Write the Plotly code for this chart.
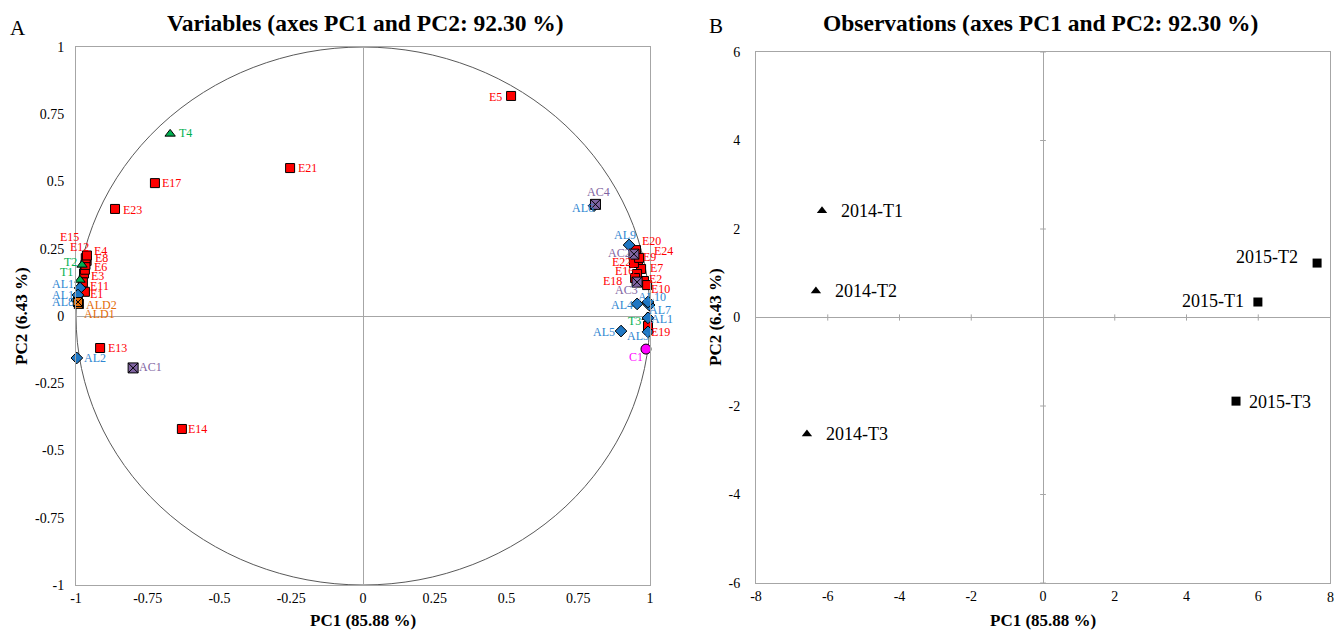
import plotly.graph_objects as go

# ---------------- Panel A: variables ----------------
E_names = ["E1","E2","E3","E4","E5","E6","E7","E8","E9","E10","E11","E12",
           "E13","E14","E15","E16","E17","E18","E19","E20","E21","E22","E23","E24"]
E_x = [-0.969, 0.979, -0.972, -0.963, 0.516, -0.969, 0.969, -0.967, 0.958, 0.990, -0.976, -0.966,
       -0.916, -0.631, -0.962, 0.955, -0.725, 0.948, 0.993, 0.951, -0.254, 0.944, -0.864, 0.962]
E_y = [0.090, 0.130, 0.158, 0.205, 0.818, 0.172, 0.175, 0.190, 0.208, 0.115, 0.125, 0.215,
       -0.119, -0.420, 0.225, 0.156, 0.494, 0.141, -0.037, 0.245, 0.550, 0.197, 0.398, 0.216]

T_names = ["T1", "T2", "T3", "T4"]
T_x = [-0.986, -0.979, 0.990, -0.672]
T_y = [0.134, 0.190, -0.004, 0.677]

AL_names = ["AL1","AL2","AL3","AL4","AL5","AL6","AL7","AL8","AL9","AL10","AL1","AL1"]
AL_x = [0.993, -0.997, 0.993, 0.955, 0.899, 0.805, 0.997, -0.997, 0.927, 0.993, -0.986, -0.993]
AL_y = [-0.007, -0.156, -0.059, 0.045, -0.056, 0.410, 0.041, 0.059, 0.264, 0.052, 0.104, 0.078]

AC_names = ["AC1", "AC2", "AC3", "AC4"]
AC_x = [-0.801, 0.944, 0.955, 0.810]
AC_y = [-0.193, 0.230, 0.126, 0.415]

ALD_names = ["ALD1", "ALD2"]
ALD_x = [-0.990, -0.993]
ALD_y = [0.045, 0.052]

C_names = ["C1"]
C_x = [0.986]
C_y = [-0.123]

# label offsets in pixels (style only)
E_dx = [12, 12, 13, 14, -16, 16, 15, 16, 12, 13, 17, -6, 17, 16, -17, -13, 17, -23, 13, 16, 17, -12, 17, 24]
E_dy = [2, -2, 2, -10, 1, -3, -1, -7, -3, 4, 4, -11, 0, 0, -18, -3, 0, 3, 6, -9, 0, -1, 1, -7]
T_dx = [-14, -12, -13, 15]
T_dy = [-8, -3, 4, -1]
AL_dx = [14, 18, -10, -15, -17, -11, 11, -14, -4, 4, -17, -15]
AL_dy = [1, 0, 4, 1, 1, 2, 5, 2, -10, -5, -4, 0]
AC_dx = [17, -14, -11, 3]
AC_dy = [-1, -1, 8, -12]
ALD_dx = [21, 23]
ALD_dy = [10, 3]
C_dx = [-10]
C_dy = [8]

# ---------------- Panel B: observations ----------------
obs_names = ["2014-T1", "2014-T2", "2014-T3", "2015-T1", "2015-T2", "2015-T3"]
obs_x = [-6.16, -6.33, -6.58, 5.99, 7.64, 5.38]
obs_y = [2.41, 0.60, -2.63, 0.35, 1.23, -1.89]
obs_year = ["2014", "2014", "2014", "2015", "2015", "2015"]
# label placement (style only)
obs_dx = [17, 17, 17, -12, -17, 11]
obs_dy = [0, 0, 0, -1, -6, 1]
obs_anchor = ["left", "left", "left", "right", "right", "left"]

ticks_A = [-1, -0.75, -0.5, -0.25, 0, 0.25, 0.5, 0.75, 1]
ticks_A_text = ["-1", "-0.75", "-0.5", "-0.25", "0", "0.25", "0.5", "0.75", "1"]
ticks_Bx = [-8, -6, -4, -2, 0, 2, 4, 6, 8]
ticks_By = [-6, -4, -2, 0, 2, 4, 6]

FONT = "Liberation Serif"

# page geometry: the body margin is removed by a post script, so the figure fills the window
OFF = 0
W, H = 1334, 631


def px(x):
    return (x - OFF) / W


def py(y):
    return 1 - (y - OFF) / H


fig = go.Figure()

series = [
    (E_names, E_x, E_y, E_dx, E_dy, "square", "#FF0000", "#FF0000", 9),
    (T_names, T_x, T_y, T_dx, T_dy, "triangle-up", "#00B050", "#00B050", 9),
    (AL_names, AL_x, AL_y, AL_dx, AL_dy, "diamond", "#1F77C4", "#2E86D1", 9),
    (AC_names, AC_x, AC_y, AC_dx, AC_dy, "square-x", "#8064A2", "#8064A2", 10),
    (ALD_names, ALD_x, ALD_y, ALD_dx, ALD_dy, "square-x", "#E36C09", "#E36C09", 9),
    (C_names, C_x, C_y, C_dx, C_dy, "circle", "#FF00FF", "#FF00FF", 10),
]

annotations = []
for names, xs, ys, dxs, dys, sym, fill, tcol, size in series:
    fig.add_trace(go.Scatter(
        x=xs, y=ys, mode="markers", xaxis="x", yaxis="y",
        marker=dict(symbol=sym, size=size, color=fill, line=dict(color="#000000", width=1)),
        cliponaxis=False, showlegend=False, hoverinfo="text", text=names))
    for n, x, y, dx, dy in zip(names, xs, ys, dxs, dys):
        annotations.append(dict(x=x, y=y, xref="x", yref="y", text=n, showarrow=False,
                                xshift=dx, yshift=-dy, xanchor="center", yanchor="middle",
                                font=dict(family=FONT, size=12, color=tcol)))

# Panel B traces
for yr, sym in [("2014", "triangle-up"), ("2015", "square")]:
    xs = [x for x, g in zip(obs_x, obs_year) if g == yr]
    ys = [y for y, g in zip(obs_y, obs_year) if g == yr]
    ns = [n for n, g in zip(obs_names, obs_year) if g == yr]
    fig.add_trace(go.Scatter(
        x=xs, y=ys, mode="markers", xaxis="x2", yaxis="y2",
        marker=dict(symbol=sym, size=9, color="#000000"),
        cliponaxis=False, showlegend=False, hoverinfo="text", text=ns))

for n, x, y, dx, dy, anc in zip(obs_names, obs_x, obs_y, obs_dx, obs_dy, obs_anchor):
    annotations.append(dict(x=x, y=y, xref="x2", yref="y2", text=n, showarrow=False,
                            xshift=dx, yshift=-dy, xanchor=anc, yanchor="middle",
                            font=dict(family=FONT, size=18, color="#000000")))

# the last tick label of panel B's x axis sits at the page edge and plotly drops it,
# so it is written as an annotation on the axis value
annotations.append(dict(x=ticks_Bx[-1], y=py(597), xref="x2", yref="paper", text=str(ticks_Bx[-1]),
                        showarrow=False, xanchor="center", yanchor="middle",
                        font=dict(family=FONT, size=14, color="#000")))

# titles and axis titles (positions in window pixels)
titles = [
    (365, 23, "<b>Variables (axes PC1 and PC2: 92.30 %)</b>", 23.5, 0),
    (1040, 23, "<b>Observations (axes PC1 and PC2: 92.30 %)</b>", 23.5, 0),
    (18, 28, "A", 21, 0),
    (716, 26, "B", 21, 0),
    (363, 620, "<b>PC1 (85.88 %)</b>", 17, 0),
    (1043, 620, "<b>PC1 (85.88 %)</b>", 17, 0),
    (21, 316, "<b>PC2 (6.43 %)</b>", 17, -90),
    (715, 317, "<b>PC2 (6.43 %)</b>", 17, -90),
]
for x, y, t, s, ang in titles:
    annotations.append(dict(x=px(x), y=py(y), xref="paper", yref="paper", text=t, showarrow=False,
                            textangle=ang, font=dict(family=FONT, size=s, color="#000"),
                            xanchor="center", yanchor="middle"))

axis_common = dict(showgrid=False, showline=True, mirror=True, linecolor="#A6A6A6", linewidth=1,
                   zeroline=True, zerolinecolor="#A6A6A6", zerolinewidth=1, ticks="",
                   automargin=False, ticklabeloverflow="allow",
                   tickfont=dict(family=FONT, size=14, color="#000"))

# small tick marks on the zero lines of panel B
shapes = [dict(type="circle", xref="x", yref="y", x0=-1, y0=-1, x1=1, y1=1,
               line=dict(color="#595959", width=1), layer="below")]
for v in ticks_By:
    if v != 0:
        shapes.append(dict(type="line", xref="x2", yref="y2", x0=-0.08, x1=0.08, y0=v, y1=v,
                           line=dict(color="#A6A6A6", width=1)))
for v in ticks_Bx:
    if v not in (0, -8, 8):
        shapes.append(dict(type="line", xref="x2", yref="y2", x0=v, x1=v, y0=-0.07, y1=0.07,
                           line=dict(color="#A6A6A6", width=1)))

fig.update_layout(
    width=W, height=H, margin=dict(l=0, r=0, t=0, b=0),
    paper_bgcolor="white", plot_bgcolor="white",
    xaxis=dict(domain=[px(76), px(650)], range=[-1, 1], tickvals=ticks_A, ticktext=ticks_A_text,
               anchor="y", ticklabelstandoff=0, **axis_common),
    yaxis=dict(domain=[py(585), py(47)], range=[-1, 1], tickvals=ticks_A, ticktext=ticks_A_text,
               anchor="x", ticklabelstandoff=8, **axis_common),
    xaxis2=dict(domain=[px(756), px(1330)], range=[-8, 8], tickvals=ticks_Bx[:-1],
                ticktext=[str(v) for v in ticks_Bx[:-1]], anchor="y2", ticklabelstandoff=0, **axis_common),
    yaxis2=dict(domain=[py(583), py(52)], range=[-6, 6], tickvals=ticks_By,
                ticktext=[str(v) for v in ticks_By], anchor="x2", ticklabelstandoff=12, **axis_common),
    annotations=annotations,
    shapes=shapes,
)

fig.write_html("out.html", config={"displayModeBar": False},
               post_script="document.body.style.margin='0';document.body.style.overflow='hidden';")
